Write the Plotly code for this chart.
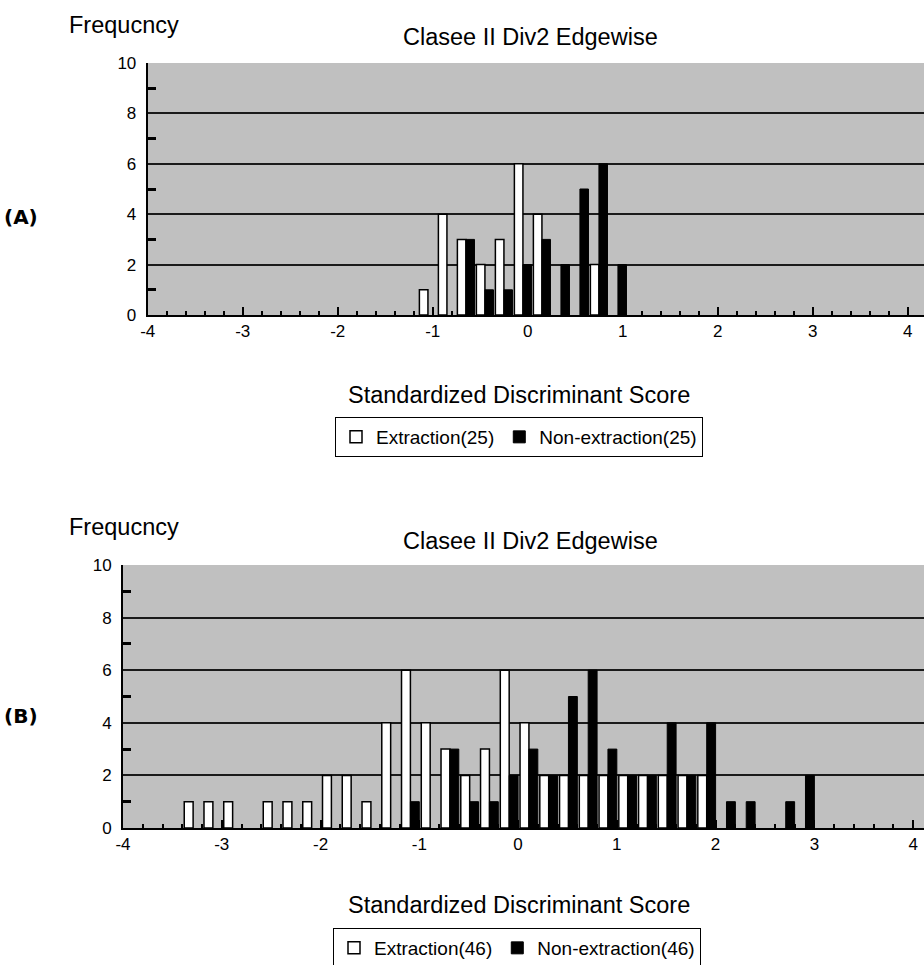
import plotly.graph_objects as go

# ---------------- data ----------------
# Panel A : Class II Div2 Edgewise, 25 vs 25
a_ext_x = [-1.05, -0.85, -0.65, -0.45, -0.25, -0.05, 0.15, 0.75]
a_ext_y = [1, 4, 3, 2, 3, 6, 4, 2]
a_non_x = [-0.65, -0.45, -0.25, -0.05, 0.15, 0.35, 0.55, 0.75, 0.95]
a_non_y = [3, 1, 1, 2, 3, 2, 5, 6, 2]

# Panel B : Class II Div2 Edgewise, 46 vs 46
b_ext_x = [-3.29, -3.09, -2.89, -2.49, -2.29, -2.09, -1.89, -1.69, -1.49, -1.29,
           -1.09, -0.89, -0.69, -0.49, -0.29, -0.09, 0.11, 0.31, 0.51, 0.71,
           0.91, 1.11, 1.31, 1.51, 1.71, 1.91]
b_ext_y = [1, 1, 1, 1, 1, 1, 2, 2, 1, 4,
           6, 4, 3, 2, 3, 6, 4, 2, 2, 2,
           2, 2, 2, 2, 2, 2]
b_non_x = [-1.09, -0.69, -0.49, -0.29, -0.09, 0.11, 0.31, 0.51, 0.71, 0.91,
           1.11, 1.31, 1.51, 1.71, 1.91, 2.11, 2.31, 2.71, 2.91]
b_non_y = [1, 3, 1, 1, 2, 3, 2, 5, 6, 3,
           2, 2, 4, 2, 4, 1, 1, 1, 2]

x_tick_vals = [-4, -3, -2, -1, 0, 1, 2, 3, 4]
x_tick_text = ["-4", "-3", "-2", "-1", "0", "1", "2", "3", "4"]
y_tick_vals = [0, 2, 4, 6, 8, 10]
y_tick_text = ["0", "2", "4", "6", "8", "10"]

chart_title = "Clasee II Div2 Edgewise"
y_title = "Frequcncy"
x_title = "Standardized Discriminant Score"
panel_labels = ["(A)", "(B)"]
a_names = ["Extraction(25)", "Non-extraction(25)"]
b_names = ["Extraction(46)", "Non-extraction(46)"]

# ---------------- figure ----------------
W, H = 924, 965
FONT = "Liberation Sans, Arial, sans-serif"


def px(x):
    return x / W


def py(y):
    return 1 - y / H


fig = go.Figure()
fig.add_trace(go.Bar(x=a_ext_x, y=a_ext_y, name=a_names[0], xaxis="x", yaxis="y",
                     marker=dict(color="white", line=dict(color="black", width=1.5)),
                     legend="legend"))
fig.add_trace(go.Bar(x=a_non_x, y=a_non_y, name=a_names[1], xaxis="x", yaxis="y",
                     marker=dict(color="black", line=dict(color="black", width=1)),
                     legend="legend"))
fig.add_trace(go.Bar(x=b_ext_x, y=b_ext_y, name=b_names[0], xaxis="x2", yaxis="y2",
                     marker=dict(color="white", line=dict(color="black", width=1.5)),
                     legend="legend2"))
fig.add_trace(go.Bar(x=b_non_x, y=b_non_y, name=b_names[1], xaxis="x2", yaxis="y2",
                     marker=dict(color="black", line=dict(color="black", width=1)),
                     legend="legend2"))


def xaxis_style(domain, rng, anchor):
    return dict(
        domain=domain, range=rng, anchor=anchor, automargin=False,
        tickmode="array", tickvals=x_tick_vals, ticktext=x_tick_text,
        ticks="inside", ticklen=8, tickwidth=2, tickcolor="black",
        minor=dict(tickmode="linear", tick0=-4, dtick=0.2, ticks="inside",
                   ticklen=4, tickwidth=2, tickcolor="black", showgrid=False),
        showline=True, linecolor="black", linewidth=2,
        showgrid=False, zeroline=False,
        tickfont=dict(family=FONT, size=17, color="black"),
        fixedrange=True,
    )


def yaxis_style(domain, anchor):
    return dict(
        domain=domain, range=[0, 10], anchor=anchor, automargin=False,
        tickmode="array", tickvals=y_tick_vals, ticktext=y_tick_text,
        ticks="", ticklabelstandoff=6,
        minor=dict(tickmode="linear", tick0=1, dtick=2, ticks="inside",
                   ticklen=8, tickwidth=3, tickcolor="black", showgrid=False),
        showline=True, linecolor="black", linewidth=2,
        showgrid=True, gridcolor="#1a1a1a", gridwidth=2,
        zeroline=False,
        tickfont=dict(family=FONT, size=17, color="black"),
        fixedrange=True,
    )


fig.update_layout(
    width=W, height=H,
    margin=dict(l=0, r=0, t=0, b=0, autoexpand=False),
    paper_bgcolor="white",
    plot_bgcolor="#c0c0c0",
    barmode="group", bargap=0.1, bargroupgap=0,
    font=dict(family=FONT, color="black"),
    xaxis=xaxis_style([px(147.7), 1.0], [-4, 4.172], "y"),
    yaxis=yaxis_style([py(315), py(63)], "x"),
    xaxis2=xaxis_style([px(123), 1.0], [-4, 4.11], "y2"),
    yaxis2=yaxis_style([py(828), py(565)], "x2"),
    legend=dict(orientation="h", x=px(519), xanchor="center", y=py(417), yanchor="top",
                bordercolor="black", borderwidth=1, bgcolor="white",
                font=dict(family=FONT, size=19, color="black"),
                itemwidth=30, tracegroupgap=0),
    legend2=dict(orientation="h", x=px(517), xanchor="center", y=py(928), yanchor="top",
                 bordercolor="black", borderwidth=1, bgcolor="white",
                 font=dict(family=FONT, size=19, color="black"),
                 itemwidth=30, tracegroupgap=0),
    showlegend=True,
)

annots = []
for (ty, fy, ly, lx, xy, label) in [(37, 25, 217, 21, 395, panel_labels[0]),
                                     (541, 527, 716, 21, 905, panel_labels[1])]:
    annots.append(dict(text=chart_title, x=px(530), y=py(ty), xref="paper", yref="paper",
                       showarrow=False, xanchor="center", yanchor="middle",
                       font=dict(family=FONT, size=23.5, color="black")))
    annots.append(dict(text=y_title, x=px(124), y=py(fy), xref="paper", yref="paper",
                       showarrow=False, xanchor="center", yanchor="middle",
                       font=dict(family=FONT, size=23.5, color="black")))
    annots.append(dict(text="<b>" + label + "</b>", x=px(lx), y=py(ly), xref="paper", yref="paper",
                       showarrow=False, xanchor="center", yanchor="middle",
                       font=dict(family="DejaVu Sans, sans-serif", size=20, color="black")))
    annots.append(dict(text=x_title, x=px(519), y=py(xy), xref="paper", yref="paper",
                       showarrow=False, xanchor="center", yanchor="middle",
                       font=dict(family=FONT, size=23.5, color="black")))
fig.update_layout(annotations=annots)

# remove the browser's default 8px body margin so the figure fills the window exactly
fig.write_html("out.html",
               config={"displayModeBar": False},
               post_script="document.body.style.margin='0';document.body.style.overflow='hidden';")
